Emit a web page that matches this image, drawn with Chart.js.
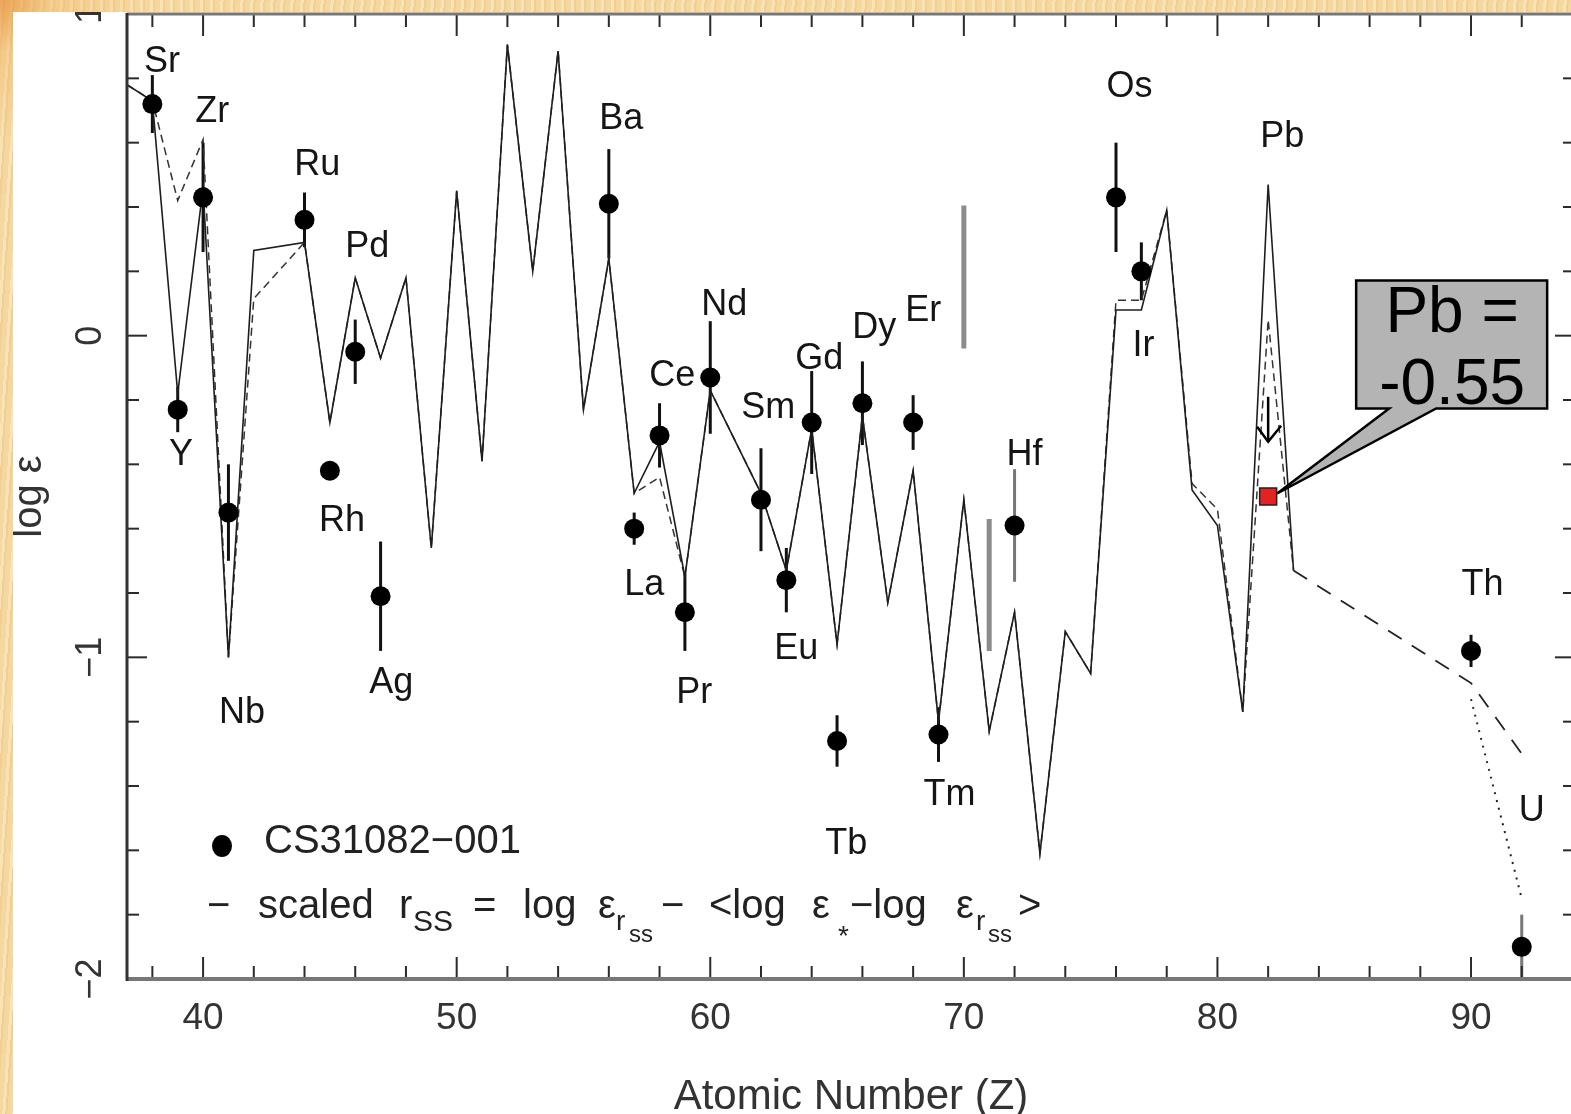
<!DOCTYPE html>
<html>
<head>
<meta charset="utf-8">
<title>CS31082-001 abundances</title>
<script src="https://cdn.jsdelivr.net/npm/chart.js@4.4.1/dist/chart.umd.min.js"></script>
<style>
  html, body { margin: 0; padding: 0; width: 1571px; height: 1114px; overflow: hidden; }
  body {
    position: relative;
    background-color: #f5d8a0;
    background-image:
      radial-gradient(circle at 0 0, rgba(226,140,50,0.7) 0px, rgba(240,180,100,0.4) 50px, rgba(246,214,160,0) 150px),
      repeating-linear-gradient(94deg, rgba(255,248,225,0.35) 0 3px, rgba(226,160,70,0.18) 3px 5px, rgba(255,255,255,0) 5px 10px);
  }
  #panel { position: absolute; left: 13px; top: 12px; right: 0; bottom: 0; background: #fff; overflow: hidden; }
  #panel canvas { position: absolute; left: -13px; top: -12px; }
</style>
</head>
<body>
<div id="panel"><canvas id="chart" width="1600" height="1114"></canvas></div>
<script>
const FONT = '"Liberation Sans", Arial, Helvetica, sans-serif';

// CS31082-001 measured abundances (log eps) with symmetric errors (0 = no bar)
const obsNames = ['Sr','Y','Zr','Nb','Ru','Rh','Pd','Ag','Ba','La','Ce','Pr','Nd','Sm','Eu','Gd','Tb','Dy','Er','Tm','Hf','Os','Ir','Th','U'];
const obsZ     = [38, 39, 40, 41, 44, 45, 46, 47, 56, 57, 58, 59, 60, 62, 63, 64, 65, 66, 68, 69, 72, 76, 77, 90, 92];
const obsVal   = [0.72, -0.23, 0.43, -0.55, 0.36, -0.42, -0.05, -0.81, 0.41, -0.60, -0.31, -0.86, -0.13, -0.51, -0.76, -0.27, -1.26, -0.21, -0.27, -1.24, -0.59, 0.43, 0.20, -0.98, -1.90];
const obsErr   = [0.09, 0.07, 0.17, 0.15, 0.085, 0, 0.10, 0.17, 0.17, 0.05, 0.10, 0.12, 0.175, 0.16, 0.10, 0.16, 0.08, 0.13, 0.085, 0.085, 0.175, 0.17, 0.09, 0.05, 0.10];
const grayErrNames = ['Hf', 'U'];

// scaled solar r-process curve and its alternative (dashed) version
const rssZ   = [37, 38, 39, 40, 41, 42, 44, 45, 46, 47, 48, 49, 50, 51, 52, 53, 54, 55, 56, 57, 58, 59, 60, 62, 63, 64, 65, 66, 67, 68, 69, 70, 71, 72, 73, 74, 75, 76, 77, 78, 79, 80, 81, 82, 83];
const rssVal = [0.78, 0.73, -0.18, 0.46, -1.00, 0.265, 0.29, -0.27, 0.18, -0.07, 0.18, -0.66, 0.45, -0.39, 0.905, 0.20, 0.885, -0.23, 0.24, -0.49, -0.33, -0.75, -0.17, -0.49, -0.73, -0.29, -0.96, -0.25, -0.83, -0.42, -1.20, -0.51, -1.23, -0.86, -1.61, -0.92, -1.05, 0.08, 0.08, 0.39, -0.48, -0.59, -1.17, 0.47, -0.73];
const rssAlt = [0.78, 0.73, 0.42, 0.61, -1.00, 0.115, 0.29, -0.27, 0.18, -0.07, 0.18, -0.66, 0.45, -0.39, 0.905, 0.20, 0.885, -0.23, 0.24, -0.49, -0.44, -0.75, -0.17, -0.49, -0.73, -0.29, -0.96, -0.25, -0.83, -0.42, -1.20, -0.51, -1.23, -0.86, -1.61, -0.92, -1.05, 0.11, 0.11, 0.39, -0.46, -0.54, -1.17, 0.05, -0.73];

// Th / U extension of the curve
const thuDashZ   = [83, 90, 92];
const thuDashVal = [-0.73, -1.08, -1.30];
const thuDotZ    = [90, 92];
const thuDotVal  = [-1.13, -1.75];

// Pb: measured value and old upper limit
const pbZ = [82];
const pbVal = [-0.50];
const pbLimitFrom = -0.19;
const pbLimitTo = -0.33;

// grey bars without a symbol
const grayBarZ  = [70, 71];
const grayBarLo = [-0.04, -0.98];
const grayBarHi = [0.405, -0.57];

// element labels (centre of text, in data units)
const labelNames = ['Sr','Y','Zr','Nb','Ru','Rh','Pd','Ag','Ba','La','Ce','Pr','Nd','Sm','Eu','Gd','Tb','Dy','Er','Tm','Hf','Os','Ir','Pb','Th','U'];
const labelZ = [38.38, 39.13, 40.36, 41.54, 44.50, 45.48, 46.47, 47.42, 56.49, 57.40, 58.50, 59.37, 60.55, 62.29, 63.39, 64.30, 65.36, 66.47, 68.40, 69.43, 72.39, 76.53, 77.08, 82.56, 90.45, 92.39];
const labelY = [0.863, -0.358, 0.707, -1.162, 0.542, -0.564, 0.287, -1.069, 0.685, -0.763, -0.112, -1.100, 0.109, -0.212, -0.963, -0.059, -1.567, 0.037, 0.090, -1.417, -0.358, 0.785, -0.019, 0.629, -0.763, -1.464];

// axis ticks
const xTickVals = [40, 50, 60, 70, 80, 90];
const yTickVals = [-2, -1, 0, 1];
const yTickLabels = ['\u22122', '\u22121', '0', '1'];

const pts = (zs, vs) => zs.map((z, i) => ({ x: z, y: vs[i] }));

function line(ctx, x1, y1, x2, y2) {
    ctx.beginPath();
    ctx.moveTo(x1, y1);
    ctx.lineTo(x2, y2);
    ctx.stroke();
}

function drawCallout(chart) {
    const { ctx, scales: { x, y } } = chart;
    const sx = x.getPixelForValue(pbZ[0]);
    const sy = y.getPixelForValue(pbVal[0]);
    const L = sx + 88, R = sx + 279, T = sy - 216, B = sy - 88;
    ctx.save();
    ctx.beginPath();
    ctx.moveTo(L, T);
    ctx.lineTo(R, T);
    ctx.lineTo(R, B);
    ctx.lineTo(sx + 168, B);
    ctx.lineTo(sx + 9, sy - 3);
    ctx.lineTo(sx + 121, B);
    ctx.lineTo(L, B);
    ctx.closePath();
    ctx.fillStyle = '#b4b4b4';
    ctx.fill();
    ctx.lineWidth = 2.5;
    ctx.strokeStyle = '#000';
    ctx.stroke();
    ctx.fillStyle = '#000';
    ctx.font = '64px ' + FONT;
    ctx.textAlign = 'center';
    ctx.textBaseline = 'middle';
    ctx.fillText('Pb =', sx + 184, sy - 182);
    ctx.fillText('-0.55', sx + 184, sy - 110);
    ctx.restore();
}

function drawLegend(chart) {
    const { ctx, chartArea: a } = chart;
    ctx.save();
    ctx.fillStyle = '#000';
    ctx.beginPath();
    ctx.ellipse(a.left + 95, a.bottom - 133, 10, 11, 0, 0, Math.PI * 2);
    ctx.fill();

    ctx.fillStyle = '#222';
    ctx.textBaseline = 'alphabetic';
    ctx.textAlign = 'left';
    ctx.font = '40px ' + FONT;
    ctx.fillText('CS31082\u2212001', a.left + 137, a.bottom - 126);

    // text, x offset, baseline shift, font size
    const runs = [
        ['\u2212', 0, 0, 40], ['scaled', 51, 0, 40], ['r', 192, 0, 40], ['SS', 206, 13, 30],
        ['=', 266, 0, 40], ['log', 316, 0, 40], ['\u03b5', 391, 0, 40], ['r', 409, 12, 28], ['ss', 422, 24, 24],
        ['\u2212', 454, 0, 40], ['<log', 502, 0, 40], ['\u03b5', 605, 0, 40], ['*', 631, 27, 28],
        ['\u2212log', 643, 0, 40], ['\u03b5', 749, 0, 40], ['r', 769, 12, 28], ['ss', 781, 24, 24], ['>', 811, 0, 40]
    ];
    const x0 = a.left + 80, y0 = a.bottom - 61;
    runs.forEach(([t, dx, dy, size]) => {
        ctx.font = size + 'px ' + FONT;
        ctx.fillText(t, x0 + dx, y0 + dy);
    });
    ctx.restore();
}

const decor = {
    id: 'decor',
    beforeDatasetsDraw(chart) {
        const { ctx, scales: { x, y } } = chart;
        ctx.save();
        ctx.lineCap = 'butt';
        // grey bars
        ctx.strokeStyle = '#8c8c8c';
        ctx.lineWidth = 5;
        grayBarZ.forEach((z, i) => {
            const p = x.getPixelForValue(z);
            line(ctx, p, y.getPixelForValue(grayBarLo[i]), p, y.getPixelForValue(grayBarHi[i]));
        });
        // error bars
        ctx.lineWidth = 3;
        obsZ.forEach((z, i) => {
            if (!obsErr[i]) return;
            ctx.strokeStyle = grayErrNames.includes(obsNames[i]) ? '#777' : '#111';
            const p = x.getPixelForValue(z);
            line(ctx, p, y.getPixelForValue(obsVal[i] - obsErr[i]), p, y.getPixelForValue(obsVal[i] + obsErr[i]));
        });
        ctx.restore();
    },
    beforeDatasetDraw(chart, args) {
        if (chart.data.datasets[args.index].label === 'Pb') drawCallout(chart);
    },
    afterDatasetsDraw(chart) {
        const { ctx, scales: { x, y } } = chart;
        ctx.save();
        // Pb upper limit arrow
        const ax = x.getPixelForValue(pbZ[0]);
        const ay1 = y.getPixelForValue(pbLimitFrom), ay2 = y.getPixelForValue(pbLimitTo);
        ctx.strokeStyle = '#000';
        ctx.lineWidth = 2.5;
        line(ctx, ax, ay1, ax, ay2);
        ctx.beginPath();
        ctx.moveTo(ax - 11, ay2 - 15);
        ctx.lineTo(ax, ay2);
        ctx.lineTo(ax + 13, ay2 - 16);
        ctx.stroke();

        // element labels
        ctx.fillStyle = '#151515';
        ctx.font = '36px ' + FONT;
        ctx.textAlign = 'center';
        ctx.textBaseline = 'middle';
        labelNames.forEach((n, i) => {
            ctx.fillText(n, x.getPixelForValue(labelZ[i]), y.getPixelForValue(labelY[i]) + 4);
        });
        ctx.restore();
        drawLegend(chart);
    },
    afterDraw(chart) {
        const { ctx, chartArea: a, scales: { x, y } } = chart;
        ctx.save();
        // inward ticks on all four sides
        ctx.strokeStyle = '#2b2b2b';
        ctx.lineWidth = 2;
        for (let z = 38; z <= x.max; z += 2) {
            const p = x.getPixelForValue(z);
            const len = z % 10 === 0 ? 22 : 13;
            line(ctx, p, a.bottom, p, a.bottom - len);
            line(ctx, p, a.top, p, a.top + len);
        }
        for (let k = -10; k <= 5; k++) {
            const p = y.getPixelForValue(k / 5);
            const len = k % 5 === 0 ? 20 : 12;
            line(ctx, a.left, p, a.left + len, p);
            line(ctx, a.right, p, a.right - len, p);
        }
        // frame
        ctx.strokeStyle = '#777';
        ctx.lineWidth = 4;
        line(ctx, a.left, a.bottom, a.right, a.bottom);
        ctx.lineWidth = 3;
        line(ctx, a.left, a.top, a.right, a.top);
        line(ctx, a.right, a.top, a.right, a.bottom);
        ctx.strokeStyle = '#333';
        line(ctx, a.left, a.top - 1, a.left, a.bottom + 2);

        // rotated y tick labels
        ctx.fillStyle = '#333';
        ctx.font = '36px ' + FONT;
        ctx.textAlign = 'center';
        ctx.textBaseline = 'middle';
        yTickVals.forEach((v, i) => {
            ctx.save();
            ctx.translate(a.left - 36, y.getPixelForValue(v));
            ctx.rotate(-Math.PI / 2);
            ctx.fillText(yTickLabels[i], 0, 0);
            ctx.restore();
        });
        ctx.restore();
    }
};

const datasets = [
    {
        label: 'CS31082-001',
        data: pts(obsZ, obsVal),
        pointRadius: 10,
        pointBackgroundColor: '#000',
        pointBorderColor: '#000',
        pointBorderWidth: 0,
        showLine: false,
        order: 0
    },
    {
        label: 'Pb',
        data: pts(pbZ, pbVal),
        pointStyle: 'rect',
        pointRadius: 12,
        pointBackgroundColor: '#e32222',
        pointBorderColor: '#222',
        pointBorderWidth: 1.5,
        showLine: false,
        order: 1
    },
    {
        label: 'scaled rSS',
        data: pts(rssZ, rssVal),
        showLine: true,
        borderColor: '#1e1e1e',
        borderWidth: 1.6,
        pointRadius: 0,
        order: 3
    },
    {
        label: 'scaled rSS (alt)',
        data: pts(rssZ, rssAlt),
        showLine: true,
        borderColor: '#333',
        borderWidth: 1.5,
        borderDash: [8, 5],
        pointRadius: 0,
        order: 4
    },
    {
        label: 'Th/U dashed',
        data: pts(thuDashZ, thuDashVal),
        showLine: true,
        borderColor: '#222',
        borderWidth: 1.8,
        borderDash: [16, 12],
        pointRadius: 0,
        order: 2
    },
    {
        label: 'Th/U dotted',
        data: pts(thuDotZ, thuDotVal),
        showLine: true,
        borderColor: '#222',
        borderWidth: 2,
        borderDash: [2, 6],
        pointRadius: 0,
        order: 2
    }
];

new Chart(document.getElementById('chart'), {
    type: 'scatter',
    data: { datasets: datasets },
    options: {
        responsive: false,
        animation: false,
        events: [],
        layout: { padding: { top: 14, right: 25, left: 0, bottom: 0 } },
        plugins: { legend: { display: false }, tooltip: { enabled: false } },
        scales: {
            x: {
                type: 'linear',
                min: 37,
                max: 94.1,
                grid: { display: false, drawTicks: false },
                border: { display: false },
                afterBuildTicks: s => { s.ticks = xTickVals.map(v => ({ value: v })); },
                afterFit: s => { s.height = 135; },
                ticks: {
                    color: '#333',
                    padding: 18,
                    maxRotation: 0,
                    font: { family: FONT, size: 37 },
                    callback: v => String(v)
                },
                title: {
                    display: true,
                    text: 'Atomic Number (Z)',
                    color: '#333',
                    font: { family: FONT, size: 42, lineHeight: 0.8 },
                    padding: { top: 0, bottom: 0 }
                }
            },
            y: {
                type: 'linear',
                min: -2,
                max: 1,
                grid: { display: false, drawTicks: false },
                border: { display: false },
                ticks: { display: false },
                afterFit: s => { s.width = 127; },
                title: {
                    display: true,
                    text: 'log \u03b5',
                    color: '#333',
                    font: { family: FONT, size: 40, lineHeight: 1 },
                    padding: { top: 10, bottom: 0 }
                }
            }
        }
    },
    plugins: [decor]
});
</script>
</body>
</html>
